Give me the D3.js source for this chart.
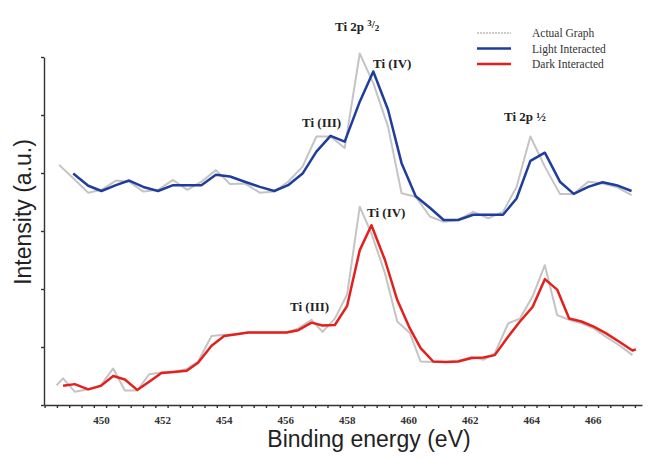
<!DOCTYPE html>
<html>
<head>
<meta charset="utf-8">
<script src="https://cdn.jsdelivr.net/npm/d3@7"></script>
<style>
  body { margin: 0; background: #fff; }
  .tick text { font-family: "Liberation Serif", "Times New Roman", serif; font-weight: bold; }
  .note { font-family: "Liberation Serif", "Times New Roman", serif; font-weight: bold; font-size: 13px; fill: #222; }
  .legend { font-family: "Liberation Serif", "Times New Roman", serif; font-size: 11.5px; fill: #333; }
  .title { font-family: "Liberation Sans", Arial, sans-serif; font-size: 23px; fill: #222; }
</style>
</head>
<body>
<div id="container"></div>
<script>
/* CONSTANTS AND GLOBALS */
const width = 649;
const height = 458;
const margin = {top: 57, bottom: 53, left: 44, right: 7};

/* DATA */
// light interacted (blue) and the actual graph above it
const lightX = [449.10, 449.59, 450.02, 450.49, 450.92, 451.38, 451.86, 452.35, 452.81, 453.27,
  453.74, 454.20, 454.68, 455.17, 455.64, 456.09, 456.56, 457.01, 457.47, 457.93,
  458.42, 458.86, 459.34, 459.78, 460.24, 460.70, 461.15, 461.62, 462.11, 462.60,
  463.08, 463.52, 463.97, 464.44, 464.93, 465.38, 465.85, 466.32, 466.77, 467.26];
const lightY = [3.99, 3.78, 3.69, 3.79, 3.87, 3.76, 3.69, 3.79, 3.79, 3.79,
  3.97, 3.94, 3.85, 3.76, 3.69, 3.79, 3.99, 4.37, 4.64, 4.54,
  5.23, 5.75, 5.09, 4.17, 3.60, 3.40, 3.19, 3.19, 3.28, 3.28,
  3.28, 3.56, 4.21, 4.35, 3.85, 3.64, 3.76, 3.84, 3.79, 3.69];
const actualTopX = [448.64].concat(lightX);
const actualTopY = [4.14, 3.91, 3.66, 3.71, 3.87, 3.85, 3.68, 3.71, 3.88, 3.71, 3.85,
  4.05, 3.81, 3.82, 3.66, 3.68, 3.85, 4.11, 4.63, 4.63, 4.43,
  6.06, 5.55, 4.80, 3.65, 3.59, 3.25, 3.16, 3.19, 3.33, 3.22,
  3.33, 3.76, 4.63, 4.11, 3.64, 3.64, 3.85, 3.82, 3.76, 3.62];

// dark interacted (red) and the actual graph below it
const darkX = [448.77, 449.15, 449.59, 450.00, 450.40, 450.78, 451.18, 451.57, 451.97, 452.37,
  452.79, 453.16, 453.60, 454.01, 454.41, 454.79, 455.28, 455.66, 456.04, 456.42,
  456.85, 457.21, 457.61, 458.01, 458.42, 458.80, 459.24, 459.64, 460.05, 460.40,
  460.81, 461.22, 461.62, 462.06, 462.44, 462.81, 463.25, 463.63, 464.04, 464.44,
  464.84, 465.23, 465.63, 466.03, 466.42, 466.86, 467.29, 467.40];
const darkY = [0.33, 0.36, 0.27, 0.33, 0.50, 0.44, 0.26, 0.40, 0.55, 0.57,
  0.59, 0.73, 1.02, 1.19, 1.22, 1.25, 1.25, 1.25, 1.25, 1.29,
  1.42, 1.37, 1.38, 1.71, 2.67, 3.10, 2.50, 1.81, 1.32, 0.98,
  0.75, 0.74, 0.75, 0.81, 0.82, 0.86, 1.18, 1.44, 1.69, 2.17,
  1.99, 1.49, 1.44, 1.35, 1.24, 1.09, 0.94, 0.96];
const actualBottomX = [448.56].concat(darkX.slice(0, 47));
const actualBottomY = [0.34, 0.46, 0.23, 0.27, 0.34, 0.63, 0.25, 0.25, 0.53, 0.56, 0.57,
  0.62, 0.75, 1.19, 1.21, 1.22, 1.25, 1.25, 1.25, 1.25, 1.32,
  1.47, 1.26, 1.49, 1.91, 3.42, 2.96, 2.27, 1.44, 1.24, 0.75,
  0.74, 0.74, 0.76, 0.83, 0.78, 0.89, 1.41, 1.49, 1.87, 2.41,
  1.55, 1.47, 1.41, 1.32, 1.18, 1.03, 0.86];

const xTickLabels = [450, 452, 454, 456, 458, 460, 462, 464, 466];
const legendNames = ["Actual Graph", "Light Interacted", "Dark Interacted"];

/* SCALES */
const xScale = d3.scaleLinear()
  .domain([448.15, 467.6])
  .range([margin.left, width - margin.right]);

const yScale = d3.scaleLinear()
  .domain([0, 6])
  .range([height - margin.bottom, margin.top]);

/* SVG */
const svg = d3.select("#container")
  .append("svg")
  .attr("width", width)
  .attr("height", height);

// x axis: minor ticks every 0.4 eV, labels every 2 eV
const minorTicks = d3.range(448.17, 467.6, 0.4);
svg.append("g")
  .attr("transform", `translate(0,${height - margin.bottom})`)
  .call(d3.axisBottom(xScale).tickValues(minorTicks).tickFormat("").tickSize(3).tickSizeOuter(0))
  .call(g => g.selectAll("path, line").attr("stroke", "#333").attr("stroke-width", 1.4));

svg.append("g")
  .attr("transform", `translate(0,${height - margin.bottom})`)
  .call(d3.axisBottom(xScale).tickValues(xTickLabels).tickSize(0).tickPadding(11))
  .call(g => g.select(".domain").remove())
  .call(g => g.selectAll("text").attr("font-size", 11).attr("fill", "#333"));

// y axis
svg.append("g")
  .attr("transform", `translate(${margin.left},0)`)
  .call(d3.axisLeft(yScale).ticks(6).tickFormat("").tickSize(3).tickSizeOuter(0))
  .call(g => g.selectAll("path, line").attr("stroke", "#333").attr("stroke-width", 1.4));

// axis titles
svg.append("text")
  .attr("class", "title")
  .attr("text-anchor", "middle")
  .attr("x", 369)
  .attr("y", 447)
  .text("Binding energy (eV)");

svg.append("text")
  .attr("class", "title")
  .attr("text-anchor", "middle")
  .attr("transform", "translate(31,212) rotate(-90)")
  .text("Intensity (a.u.)");

/* LINES */
const line = d3.line()
  .x(d => xScale(d[0]))
  .y(d => yScale(d[1]));

const series = [
  {x: actualTopX, y: actualTopY, color: "#c4c4c4", w: 2},
  {x: actualBottomX, y: actualBottomY, color: "#c4c4c4", w: 2},
  {x: lightX, y: lightY, color: "#1f3d9c", w: 2.5},
  {x: darkX, y: darkY, color: "#e3201b", w: 2.5}
];

svg.selectAll(".series")
  .data(series)
  .join("path")
  .attr("class", "series")
  .attr("fill", "none")
  .attr("stroke", d => d.color)
  .attr("stroke-width", d => d.w)
  .attr("stroke-linejoin", "round")
  .attr("d", d => line(d.x.map((v, i) => [v, d.y[i]])));

/* ANNOTATIONS */
const t = svg.append("text").attr("class", "note").attr("x", 335).attr("y", 31);
t.append("tspan").text("Ti 2p ");
t.append("tspan").attr("font-size", 9).attr("dy", -5).text("3");
t.append("tspan").attr("font-size", 11).attr("dy", 2).text("/");
t.append("tspan").attr("font-size", 9).attr("dy", 3).text("2");

svg.append("text").attr("class", "note").attr("x", 373).attr("y", 68).text("Ti (IV)");
svg.append("text").attr("class", "note").attr("x", 302).attr("y", 127).text("Ti (III)");
svg.append("text").attr("class", "note").attr("x", 504).attr("y", 121).text("Ti 2p ½");
svg.append("text").attr("class", "note").attr("x", 367).attr("y", 217).text("Ti (IV)");
svg.append("text").attr("class", "note").attr("x", 290).attr("y", 311).text("Ti (III)");

/* LEGEND */
const legendColors = ["#9a9a9a", "#1f3d9c", "#e3201b"];
const legend = svg.selectAll(".leg")
  .data(legendNames)
  .join("g")
  .attr("class", "leg")
  .attr("transform", (d, i) => `translate(477,${33 + i * 15.5})`);

legend.append("line")
  .attr("x1", 0).attr("x2", 34)
  .attr("stroke", (d, i) => legendColors[i])
  .attr("stroke-width", (d, i) => i === 0 ? 1.2 : 2.5)
  .attr("stroke-dasharray", (d, i) => i === 0 ? "2,1" : null);

legend.append("text")
  .attr("class", "legend")
  .attr("x", 55)
  .attr("y", 4)
  .text(d => d);
</script>
</body>
</html>
